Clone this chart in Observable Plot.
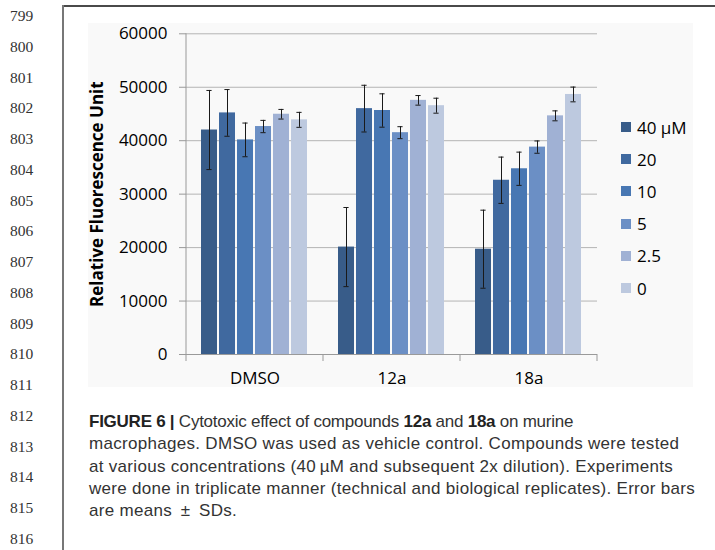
<!DOCTYPE html>
<html><head><meta charset="utf-8">
<script src="https://cdn.jsdelivr.net/npm/d3@7"></script>
<script src="https://cdn.jsdelivr.net/npm/@observablehq/plot@0.6"></script>
<style>
body{margin:0;background:#fff;width:715px;height:550px;overflow:hidden;position:relative;font-family:"Open Sans",sans-serif}
#bg{position:absolute;left:88px;top:23px;width:605px;height:364px;background:#f9f9f9}
#chart{position:absolute;left:0;top:0}
#topline{position:absolute;left:63px;top:5px;width:652px;height:2px;background:#4a4a4a}
#leftline{position:absolute;left:62px;top:5px;width:2px;height:545px;background:#777}
.ln{position:absolute;left:10px;font:15.5px "Liberation Serif",serif;color:#333;line-height:16px}
#legend{position:absolute;left:621px;top:111px;font:17px "Open Sans",sans-serif;color:#000}
.lgi{display:flex;align-items:center;height:32.2px}
.lgi span.sw{display:inline-block;width:10px;height:10px;margin-right:6px}
#caption{position:absolute;left:89px;top:411px;font-family:"Liberation Sans",sans-serif;font-size:17px;line-height:22.3px;color:#333;white-space:nowrap;letter-spacing:0.3px}
#caption .l1, #caption .l1 b{letter-spacing:-0.25px}
#caption b{color:#222}
</style>
</head><body>
<div id="bg"></div>
<div id="topline"></div>
<div id="leftline"></div>
<div id="chart"></div>
<div id="legend"></div>
<div id="caption"><span class="l1"><b>FIGURE 6 |</b> Cytotoxic effect of compounds <b>12a</b> and <b>18a</b> on murine</span><br>macrophages. DMSO was used as vehicle control. Compounds were tested<br>at various concentrations (40&#8201;µM and subsequent 2x dilution). Experiments<br>were done in triplicate manner (technical and biological replicates). Error bars<br>are means &#8201;±&#8201; SDs.</div>
<script>
const groups = ["DMSO", "12a", "18a"];
const concs = ["40 µM", "20", "10", "5", "2.5", "0"];
const colors = ["#385c89", "#40699f", "#4877b3", "#6b8fc5", "#a0b1d4", "#bdc9df"];
const meanDMSO = [42000, 45200, 40150, 42650, 44950, 43900];
const mean12a  = [20100, 46000, 45650, 41500, 47550, 46550];
const mean18a  = [19700, 32600, 34750, 38800, 44650, 48650];
const sdDMSO = [7400, 4370, 3150, 1150, 900, 1400];
const sd12a  = [7400, 4370, 3120, 1120, 900, 1400];
const sd18a  = [7300, 4330, 3110, 1150, 930, 1380];
const yTicks = [0, 10000, 20000, 30000, 40000, 50000, 60000];
const lineNumbers = [799, 800, 801, 802, 803, 804, 805, 806, 807, 808, 809, 810, 811, 812, 813, 814, 815, 816];

const means = [meanDMSO, mean12a, mean18a];
const sds = [sdDMSO, sd12a, sd18a];
const rows = [];
groups.forEach((g, gi) => concs.forEach((c, ci) => rows.push({group: g, conc: c, mean: means[gi][ci], sd: sds[gi][ci]})));

const plot = Plot.plot({
  width: 715, height: 400,
  marginLeft: 185, marginRight: 117.5, marginTop: 33.3, marginBottom: 46,
  style: {background: "transparent", fontFamily: "Open Sans", fontSize: "17px", color: "#000", overflow: "visible"},
  fx: {domain: groups, padding: 0},
  x: {domain: concs, paddingInner: 0.09, paddingOuter: 0.77, axis: null},
  y: {domain: [0, 60000]},
  color: {domain: concs, range: colors},
  marks: [
    Plot.gridY(yTicks, {stroke: "#b4b4b4", strokeOpacity: 1}),
    Plot.axisY(yTicks, {tickSize: 7, tickPadding: 12, stroke: "#999", fill: "#000", tickFormat: d => String(d),
      label: "Relative Fluorescence Unit", labelAnchor: "center", labelOffset: 96, labelArrow: "none"}),
    Plot.axisFx({anchor: "bottom", tickSize: 0, tickPadding: 17, label: null, fill: "#000"}),
    Plot.barY(rows, {fx: "group", x: "conc", y: "mean", fill: "conc"}),
    Plot.ruleX(rows, {fx: "group", x: "conc", y1: d => d.mean - d.sd, y2: d => d.mean + d.sd, stroke: "#1a1a1a", strokeWidth: 1}),
    Plot.tickY(rows, {fx: "group", x: "conc", y: d => d.mean - d.sd, stroke: "#1a1a1a", insetLeft: 5.4, insetRight: 5.4}),
    Plot.tickY(rows, {fx: "group", x: "conc", y: d => d.mean + d.sd, stroke: "#1a1a1a", insetLeft: 5.4, insetRight: 5.4}),
    Plot.ruleY([0], {stroke: "#9a9a9a"})
  ]
});
document.getElementById("chart").appendChild(plot);

// y-axis label bold
d3.select(plot).selectAll('[aria-label="y-axis label"] text').attr("font-weight", "bold");

// axis line and group boundary ticks from the scales
const fxs = plot.scale("fx"), ys = plot.scale("y");
const yTop = ys.apply(60000), yBase = ys.apply(0);
const starts = groups.map(g => fxs.apply(g));
const bounds = [...starts, starts[starts.length - 1] + fxs.bandwidth];
const gB = d3.select(plot).append("g").attr("stroke", "#999");
bounds.forEach((bx, i) => {
  gB.append("line").attr("x1", bx).attr("x2", bx).attr("y1", i === 0 ? yTop : yBase).attr("y2", yBase + 7);
});

// legend
const cs = plot.scale("color");
const lg = d3.select("#legend");
concs.forEach(c => {
  const it = lg.append("div").attr("class", "lgi");
  it.append("span").attr("class", "sw").style("background", cs.apply(c));
  it.append("span").text(c);
});

// line numbers
lineNumbers.forEach((n, i) => {
  d3.select("body").append("div").attr("class", "ln").style("top", (8 + i * 30.75) + "px").text(n);
});
</script>
</body></html>
